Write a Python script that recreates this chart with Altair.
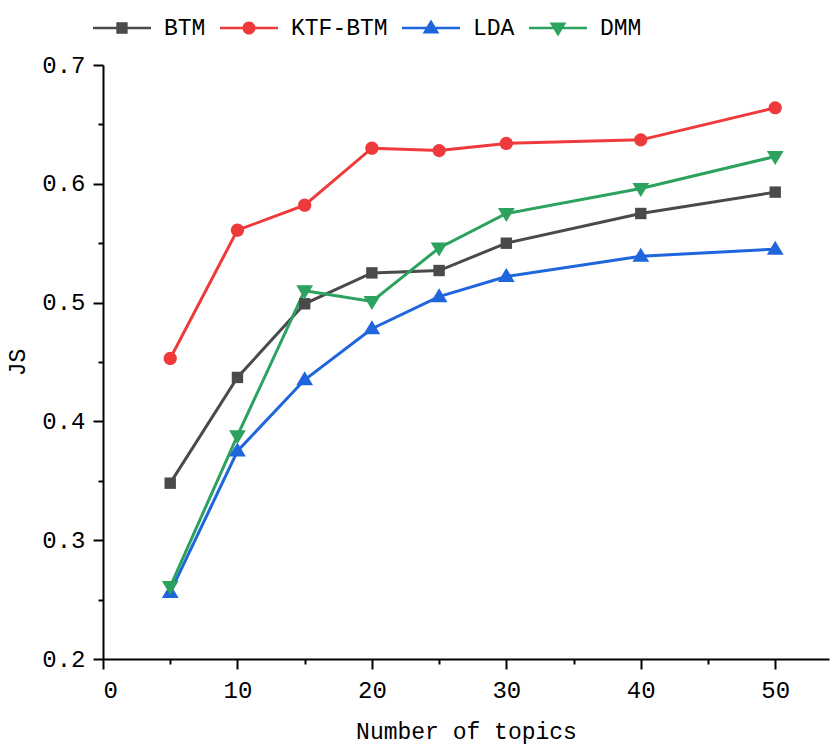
import altair as alt
import pandas as pd

topics = [5, 10, 15, 20, 25, 30, 40, 50]
series_names = ["BTM", "KTF-BTM", "LDA", "DMM"]
btm = [0.348, 0.437, 0.499, 0.525, 0.527, 0.550, 0.575, 0.593]
ktf_btm = [0.453, 0.561, 0.582, 0.630, 0.628, 0.634, 0.637, 0.664]
lda = [0.256, 0.375, 0.435, 0.478, 0.505, 0.522, 0.539, 0.545]
dmm = [0.261, 0.388, 0.510, 0.501, 0.546, 0.575, 0.596, 0.623]
colors = ["#4a4a4a", "#ee3a3a", "#1f66dd", "#2ca25f"]

x_ticks = [0, 5, 10, 15, 20, 25, 30, 35, 40, 45, 50]
y_ticks = [0.2, 0.25, 0.3, 0.35, 0.4, 0.45, 0.5, 0.55, 0.6, 0.65, 0.7]

rows = []
for name, vals in zip(series_names, [btm, ktf_btm, lda, dmm]):
    for t, v in zip(topics, vals):
        rows.append({"topics": t, "JS": v, "series": name})
df = pd.DataFrame(rows)

FONT = "Liberation Mono"

# marker paths for the plot (scaled by sqrt(size)/2 = 10 px per unit)
plot_paths = {
    "BTM": "M-0.57,-0.57H0.57V0.57H-0.57Z",
    "KTF-BTM": "M-0.66,0A0.66,0.66 0 1,1 0.66,0A0.66,0.66 0 1,1 -0.66,0Z",
    "LDA": "M0,-0.85L0.84,0.55L-0.84,0.55Z",
    "DMM": "M-0.84,-0.55L0.84,-0.55L0,0.85Z",
}
# legend symbols: line + marker (scaled by 29 px per unit)
L = "M-1,-0.045H1V0.045H-1Z"
legend_paths = [
    L + "M-0.195,-0.195H0.195V0.195H-0.195Z",
    L + "M-0.225,0A0.225,0.225 0 1,1 0.225,0A0.225,0.225 0 1,1 -0.225,0Z",
    L + "M0,-0.29L0.29,0.19L-0.29,0.19Z",
    L + "M-0.29,-0.19L0.29,-0.19L0,0.29Z",
]

x_scale = alt.Scale(domain=[0, 54], nice=False)
y_scale = alt.Scale(domain=[0.2, 0.7], nice=False)
color_scale = alt.Scale(domain=series_names, range=colors)

major_y = "abs(datum.value*10 - round(datum.value*10)) < 0.001"

x_enc = alt.X(
    "topics:Q",
    scale=x_scale,
    axis=alt.Axis(
        values=x_ticks,
        title="Number of topics",
        labelExpr="datum.value % 10 == 0 ? datum.label : ''",
        tickSize={"condition": {"test": "datum.value % 10 == 0", "value": 10}, "value": 5},
        grid=False,
        domainColor="black",
        domainWidth=2,
        tickColor="black",
        tickWidth=2,
        labelFont=FONT,
        labelFontSize=24,
        labelColor="black",
        labelPadding=9,
        titleFont=FONT,
        titleFontSize=23,
        titleFontWeight="normal",
        titleColor="black",
        titlePadding=18,
    ),
)
y_enc = alt.Y(
    "JS:Q",
    scale=y_scale,
    axis=alt.Axis(
        values=y_ticks,
        title="JS",
        labelExpr=major_y + " ? format(datum.value, '.1f') : ''",
        tickSize={"condition": {"test": major_y, "value": 10}, "value": 5},
        grid=False,
        domainColor="black",
        domainWidth=2,
        tickColor="black",
        tickWidth=2,
        labelFont=FONT,
        labelFontSize=24,
        labelColor="black",
        labelPadding=8,
        titleFont=FONT,
        titleFontSize=23,
        titleFontWeight="normal",
        titleColor="black",
        titlePadding=12,
    ),
)

base = alt.Chart(df)

layers = []
for i, (name, col) in enumerate(zip(series_names, colors)):
    sub = base.transform_filter(alt.datum.series == name)
    if i == 0:
        layers.append(sub.mark_line(strokeWidth=3, color=col).encode(x=x_enc, y=y_enc))
    else:
        layers.append(sub.mark_line(strokeWidth=3, color=col).encode(x="topics:Q", y="JS:Q"))
for name, col in zip(series_names, colors):
    layers.append(
        base.transform_filter(alt.datum.series == name)
        .mark_point(filled=True, opacity=1, size=400, shape=plot_paths[name], color=col)
        .encode(x="topics:Q", y="JS:Q")
    )

legend_kw = dict(
    title=None,
    orient="none",
    direction="horizontal",
    legendX=-10,
    legendY=-66,
    symbolSize=3364,
    symbolOpacity=1,
    symbolStrokeWidth=0,
    labelFont=FONT,
    labelFontSize=23,
    labelColor="black",
    labelOffset=13,
    columnPadding=14,
)

legend_layer = base.mark_point(filled=True, opacity=0).encode(
    x="topics:Q",
    y="JS:Q",
    color=alt.Color("series:N", scale=color_scale, legend=alt.Legend(**legend_kw)),
    shape=alt.Shape(
        "series:N",
        scale=alt.Scale(domain=series_names, range=legend_paths),
        legend=alt.Legend(**legend_kw),
    ),
)
layers.append(legend_layer)

chart = (
    alt.layer(*layers)
    .properties(
        width=726,
        height=594,
        autosize=alt.AutoSizeParams(type="none"),
        padding={"left": 103, "top": 65, "right": 3, "bottom": 85},
        background="white",
    )
    .configure_view(stroke=None)
)

chart.save("out.html", embed_options={"renderer": "svg", "actions": False})
